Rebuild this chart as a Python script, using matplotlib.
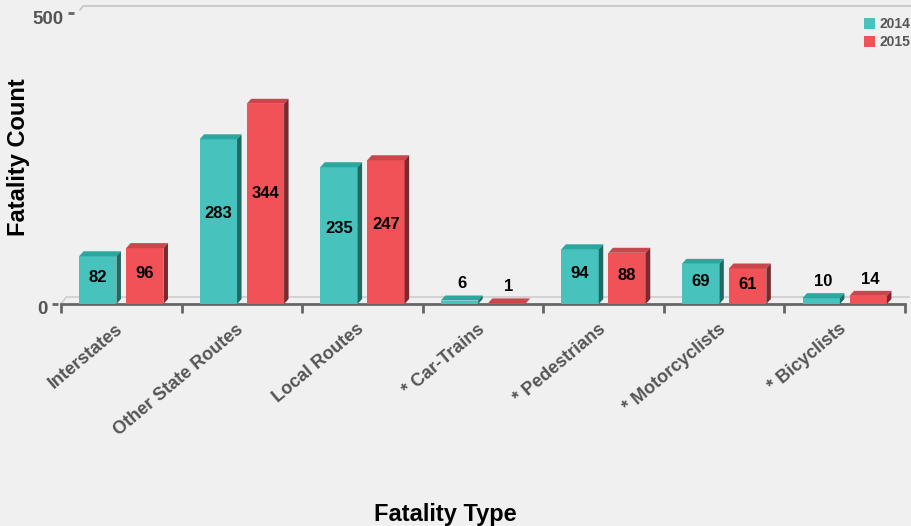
import matplotlib
matplotlib.use('Agg')
import matplotlib.pyplot as plt
from matplotlib.patches import Polygon, Rectangle
from matplotlib.lines import Line2D
from matplotlib.transforms import ScaledTranslation, Affine2D
import numpy as np

# ---- data ----
categories = ['Interstates', 'Other State Routes', 'Local Routes', '* Car-Trains',
              '* Pedestrians', '* Motorcyclists', '* Bicyclists']
values_2014 = [82, 283, 235, 6, 94, 69, 10]
values_2015 = [96, 344, 247, 1, 88, 61, 14]
series_names = ['2014', '2015']
y_ticks = [0, 500]

plt.rcParams['font.family'] = ['Liberation Sans', 'DejaVu Sans']
plt.rcParams['font.weight'] = 'bold'

W, H = 911, 526
BG = '#f0f0f0'
fig = plt.figure(figsize=(W / 100, H / 100), dpi=100, facecolor=BG)
L, R, T, B = 61, 905, 13, 304
ax = fig.add_axes([L / W, 1 - B / H, (R - L) / W, (B - T) / H])
ax.set_facecolor('none')
n = len(categories)
ax.set_xlim(-0.5, n - 0.5)
ax.set_ylim(y_ticks[0], y_ticks[-1])
px_per_cat = (R - L) / n
px_per_unit = (B - T) / (y_ticks[-1] - y_ticks[0])
dx = 4.5 / px_per_cat
dy = 5 / px_per_unit

pxT = Affine2D().scale(1 / W, -1 / H).translate(0, 1) + fig.transFigure

# back plane lines
fig.add_artist(Line2D([62, 66, 909], [303, 297, 297], color='#cdcdcd', lw=1.2, transform=pxT, zorder=0))
fig.add_artist(Line2D([80, 83, 911], [10, 6, 6], color='#c4c4c4', lw=1.2, transform=pxT, zorder=0))

colors = {
    '2014': ('#47C2BC', '#2AA79E', '#1E6B66'),
    '2015': ('#F05258', '#C9464C', '#7A2A2F'),
}
bw = 0.31
offsets = [-0.195, 0.195]
for s, (name, vals) in enumerate(zip(series_names, [values_2014, values_2015])):
    front, top, side = colors[name]
    for i, v in enumerate(vals):
        c = i + offsets[s]
        x0 = c - bw / 2
        x1 = c + bw / 2
        ax.add_patch(Rectangle((x0, 0), bw, v, fc=front, ec='none', zorder=3))
        ax.add_patch(Polygon([(x0, v), (x0 + dx, v + dy), (x1 + dx, v + dy), (x1, v)],
                             closed=True, fc=top, ec='none', zorder=3))
        ax.add_patch(Polygon([(x1, 0), (x1 + dx, dy), (x1 + dx, v + dy), (x1, v)],
                             closed=True, fc=side, ec='none', zorder=3))
        if v >= 30:
            ax.text(c, v * 0.55, str(v), ha='center', va='center', fontsize=12,
                    fontweight='bold', color='#000000', zorder=5)
        else:
            ax.annotate(str(v), (c + dx / 2, v + dy), xytext=(0, 3), textcoords='offset points',
                        ha='center', va='bottom', fontsize=12, fontweight='bold',
                        color='#000000', zorder=5)

# spines
for sp in ['top', 'right', 'left']:
    ax.spines[sp].set_visible(False)
ax.spines['bottom'].set_color('#666666')
ax.spines['bottom'].set_linewidth(2)
ax.spines['bottom'].set_zorder(2)

# x ticks
ax.set_xticks(range(n))
ax.set_xticklabels(categories, rotation=40, ha='right', va='top', fontsize=13,
                   fontweight='bold', color='#555555')
ax.set_xticks(np.arange(-0.5, n, 1), minor=True)
ax.tick_params(axis='x', which='major', length=0, pad=12)
ax.tick_params(axis='x', which='minor', length=6.5, width=2, color='#666666')
for lab in ax.get_xticklabels():
    lab.set_transform(lab.get_transform() + ScaledTranslation(5 / 100, 0, fig.dpi_scale_trans))

# y ticks
ax.set_yticks(y_ticks)
ax.set_yticklabels([str(t) for t in y_ticks], fontsize=13.5, fontweight='bold', color='#555555')
ax.tick_params(axis='y', which='major', length=4.3, width=2, color='#666666', pad=3)
shifts = [-3, 13]
for tk, sh in zip(ax.yaxis.get_major_ticks(), shifts):
    off = ScaledTranslation(sh / 100, 0, fig.dpi_scale_trans)
    tk.tick1line.set_transform(tk.tick1line.get_transform() + off)
    tk.label1.set_transform(tk.label1.get_transform() +
                            ScaledTranslation(sh / 100, -4 / 100, fig.dpi_scale_trans))

# legend
for k, name in enumerate(series_names):
    yt = 18 + k * 18
    fig.add_artist(Rectangle((864, yt + 11), 11, -11, transform=pxT, fc=colors[name][0], ec='none'))
    fig.text(880 / W, 1 - (yt + 5.5) / H, name, ha='left', va='center', fontsize=10,
             fontweight='bold', color='#555555')

# axis titles
fig.text(19 / W, 1 - 157 / H, 'Fatality Count', rotation=90, ha='center', va='center',
         fontsize=17, fontweight='bold', color='#000000')
fig.text(445 / W, 1 - 515 / H, 'Fatality Type', ha='center', va='center',
         fontsize=17, fontweight='bold', color='#000000')

fig.savefig('out.png', dpi=100, facecolor=BG)
